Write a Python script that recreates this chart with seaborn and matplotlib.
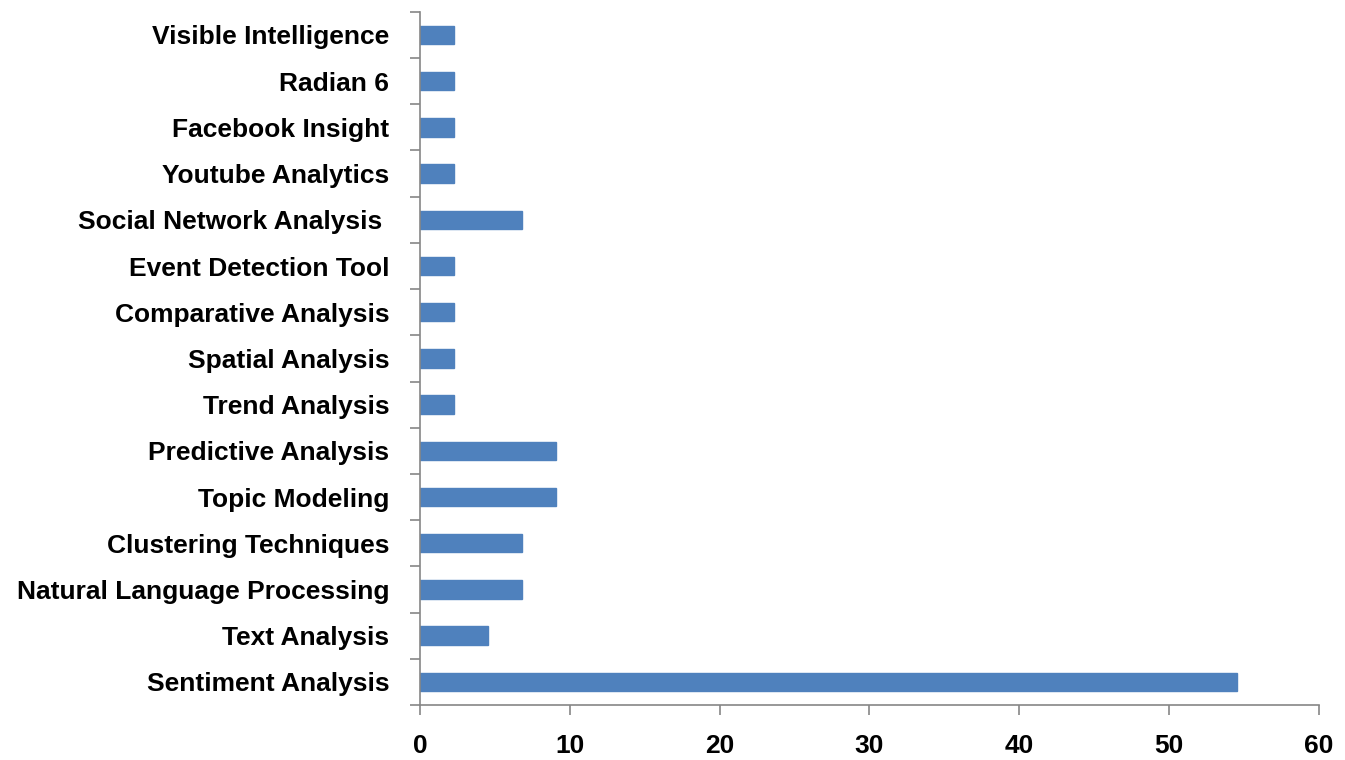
import numpy as np
import matplotlib
matplotlib.use('Agg')
import matplotlib.pyplot as plt
import seaborn as sns

sns.set_style('white')
plt.rcParams['font.family'] = ['Liberation Sans Narrow', 'Liberation Sans', 'DejaVu Sans']

# 数据
tools = ['Visible Intelligence', 'Radian 6', 'Facebook Insight', 'Youtube Analytics',
         'Social Network Analysis ', 'Event Detection Tool', 'Comparative Analysis',
         'Spatial Analysis', 'Trend Analysis', 'Predictive Analysis', 'Topic Modeling',
         'Clustering Techniques', 'Natural Language Processing', 'Text Analysis',
         'Sentiment Analysis']
percent = [2.27, 2.27, 2.27, 2.27, 6.82, 2.27, 2.27, 2.27, 2.27, 9.09, 9.09,
           6.82, 6.82, 4.55, 54.55]
xticks = [0, 10, 20, 30, 40, 50, 60]

fig = plt.figure(figsize=(13.45, 7.6), dpi=100)
ax = fig.add_axes([0.3123, 0.0724, 0.668, 0.912])

sns.barplot(x=percent, y=tools, color='#4F81BD', saturation=1, width=0.4,
            edgecolor='#4F81BD', ax=ax)

ax.set_xlim(0, 60)
ax.set_ylim(len(tools) - 0.5, -0.5)
ax.set_xticks(xticks)
ax.set_xticklabels([str(t) for t in xticks], fontsize=19, fontweight='bold', color='black')
ax.tick_params(axis='x', bottom=True, length=7, width=1.2, color='#868686',
               direction='out', pad=14)
ax.tick_params(axis='y', which='major', left=False, length=0, pad=22)
ax.set_yticks(np.arange(-0.5, len(tools), 1), minor=True)
ax.tick_params(axis='y', which='minor', left=True, length=7, width=1.2,
               color='#868686', direction='out')
for lab in ax.get_yticklabels():
    lab.set_fontsize(19)
    lab.set_fontweight('bold')
    lab.set_color('black')

for s in ['top', 'right']:
    ax.spines[s].set_visible(False)
for s in ['left', 'bottom']:
    ax.spines[s].set_color('#868686')
    ax.spines[s].set_linewidth(1.2)

fig.savefig('out.png', dpi=100)
